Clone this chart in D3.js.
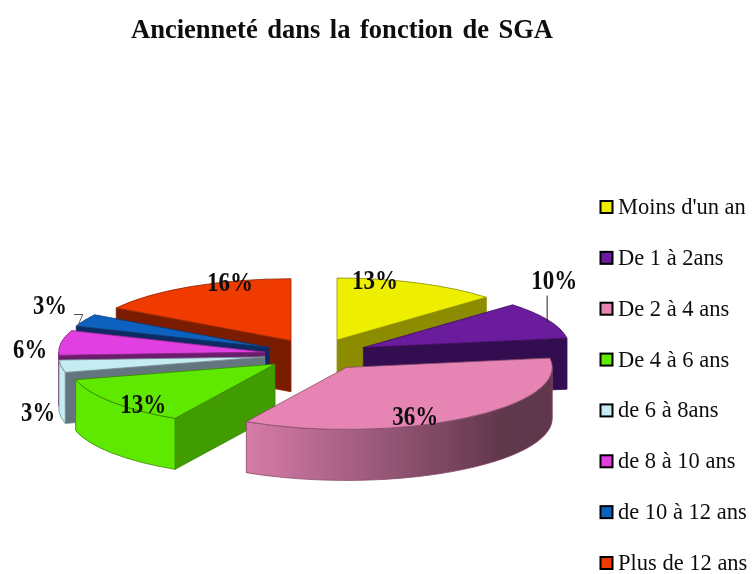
<!DOCTYPE html>
<html>
<head>
<meta charset="utf-8">
<script src="https://cdn.jsdelivr.net/npm/d3@7"></script>
<style>
html,body{margin:0;padding:0;background:#fff;}
svg{display:block;}
text{font-family:"Liberation Serif","Times New Roman",serif;fill:#111;}
</style>
</head>
<body>
<script>
const titleText = "Ancienneté dans la fonction de SGA";
const categories = ["Moins d'un an","De 1 à 2ans","De 2 à 4 ans","De 4 à 6 ans","de 6 à 8ans","de 8 à 10 ans","de 10 à 12 ans","Plus de 12 ans"];
const counts = [4,3,11,4,1,2,1,5];
const percentLabels = ["13%","10%","36%","13%","3%","6%","3%","16%"];
const topColors  = ["#eeee00","#6a1a9c","#e684b4","#5ee800","#c4ecf2","#e040e0","#0f62c0","#f03a00"];
const wallColors = ["#8c8c00","#33094f","#7d4a66","#3f9c00","#647680","#6c1a6c","#0a2a62","#7a1c00"];
const drawOrder  = [7,6,5,4,3,0,1,2];
// label anchor points, in pie units relative to the pie centre
const labelX = [.285,1.155,.48,-.84,-1.351,-1.39,-1.293,-.42];
const labelY = [1.06,1.06,-1.14,-.95,-1.08,-.05,.66,1.03];

const W = 753, H = 574;
const cx = 316.4, cy = 354.5, rx = 206, ry = 62, depth = 51, explode = 0.254;
const px = d3.scaleLinear().domain([-1,1]).range([cx-rx,cx+rx]);
const py = d3.scaleLinear().domain([-1,1]).range([cy+ry,cy-ry]);

const svg = d3.select("body").append("svg").attr("width",W).attr("height",H);
const defs = svg.append("defs");
defs.append("filter").attr("id","soft").attr("x","-5%").attr("y","-5%").attr("width","110%").attr("height","110%")
  .append("feGaussianBlur").attr("stdDeviation",0.45);
const root = svg.append("g").attr("filter","url(#soft)");

const pie = d3.pie().sort(null).value(d=>d).startAngle(0).endAngle(2*Math.PI);
const arcs = pie(counts);
const PI = Math.PI;

function pt(a, c, dy=0){ return [px(c.u+Math.sin(a)), py(c.v+Math.cos(a))+dy]; }
function ellArc(path, a0, a1, c, dy=0){
  const e = pt(a1,c,dy), large = (a1-a0)>PI?1:0;
  return `${path} A${rx} ${ry} 0 ${large} 1 ${e[0]} ${e[1]}`;
}

drawOrder.forEach(i=>{
  const d = arcs[i], mid = (d.startAngle+d.endAngle)/2;
  const c = {u:explode*Math.sin(mid), v:explode*Math.cos(mid)};
  const ax = px(c.u), ay = py(c.v);
  const col = topColors[i], wall = wallColors[i];
  const edge = d3.color(col).darker(1.5).formatHex();
  const g = root.append("g").attr("stroke",edge).attr("stroke-width",0.8).attr("stroke-linejoin","round");

  const grad = defs.append("linearGradient").attr("id","rim"+i)
    .attr("gradientUnits","userSpaceOnUse").attr("x1",px(-1)).attr("x2",px(1)).attr("y1",0).attr("y2",0);
  grad.append("stop").attr("offset",0.25).attr("stop-color",col);
  grad.append("stop").attr("offset",0.95).attr("stop-color",d3.interpolateRgb(col,"#000")(0.58));

  const wallAngle = d.startAngle>PI && d.startAngle<2*PI ? d.startAngle : (d.endAngle>0 && d.endAngle<PI ? d.endAngle : null);
  if(wallAngle!==null){
    const p = pt(wallAngle,c);
    g.append("path").attr("fill",wall)
      .attr("d",`M${ax} ${ay} L${p[0]} ${p[1]} L${p[0]} ${p[1]+depth} L${ax} ${ay+depth} Z`);
  }
  const r0 = Math.max(d.startAngle,PI/2), r1 = Math.min(d.endAngle,3*PI/2);
  if(r1>r0){
    const s0 = pt(r0,c), s1 = pt(r1,c,depth);
    let p = `M${s0[0]} ${s0[1]}`;
    p = ellArc(p,r0,r1,c);
    p += ` L${s1[0]} ${s1[1]}`;
    const back = pt(r0,c,depth);
    p += ` A${rx} ${ry} 0 ${(r1-r0)>PI?1:0} 0 ${back[0]} ${back[1]} Z`;
    g.append("path").attr("fill",`url(#rim${i})`).attr("d",p);
  }
  const s = pt(d.startAngle,c);
  g.append("path").attr("fill",col)
    .attr("d",ellArc(`M${ax} ${ay} L${s[0]} ${s[1]}`,d.startAngle,d.endAngle,c)+" Z");
});

// title
root.append("text").attr("x",342).attr("y",38).attr("text-anchor","middle")
  .attr("font-size",27.5).attr("font-weight","bold").attr("word-spacing",3)
  .attr("textLength",422).attr("lengthAdjust","spacingAndGlyphs").text(titleText);

// leader lines
const line = d3.line();
root.append("path").attr("fill","none").attr("stroke","#222").attr("stroke-width",1)
  .attr("d",line([[px(1.12),py(.95)],[px(1.12),py(.52)]]));
root.append("path").attr("fill","none").attr("stroke","#555").attr("stroke-width",1)
  .attr("d",line([[px(-1.177),py(.645)],[px(-1.134),py(.645)],[px(-1.157),py(.47)]]));

// percentage labels
root.selectAll("text.pct").data(percentLabels).join("text").attr("class","pct")
  .attr("x",(d,i)=>px(labelX[i])).attr("y",(d,i)=>py(labelY[i]))
  .attr("text-anchor","middle").attr("font-size",28).attr("font-weight","bold")
  .attr("textLength",d=>d.length===3?46:34).attr("lengthAdjust","spacingAndGlyphs").text(d=>d);

// legend
const ly = d3.scalePoint().domain(categories).range([207,563]);
const leg = root.selectAll("g.leg").data(categories).join("g").attr("class","leg")
  .attr("transform",d=>`translate(0,${ly(d)})`);
leg.append("rect").attr("x",600.5).attr("y",-6).attr("width",12).attr("height",12)
  .attr("fill",(d,i)=>topColors[i]).attr("stroke","#000").attr("stroke-width",2);
leg.append("text").attr("x",618).attr("y",7).attr("font-size",22.5).text(d=>d);
</script>
</body>
</html>
